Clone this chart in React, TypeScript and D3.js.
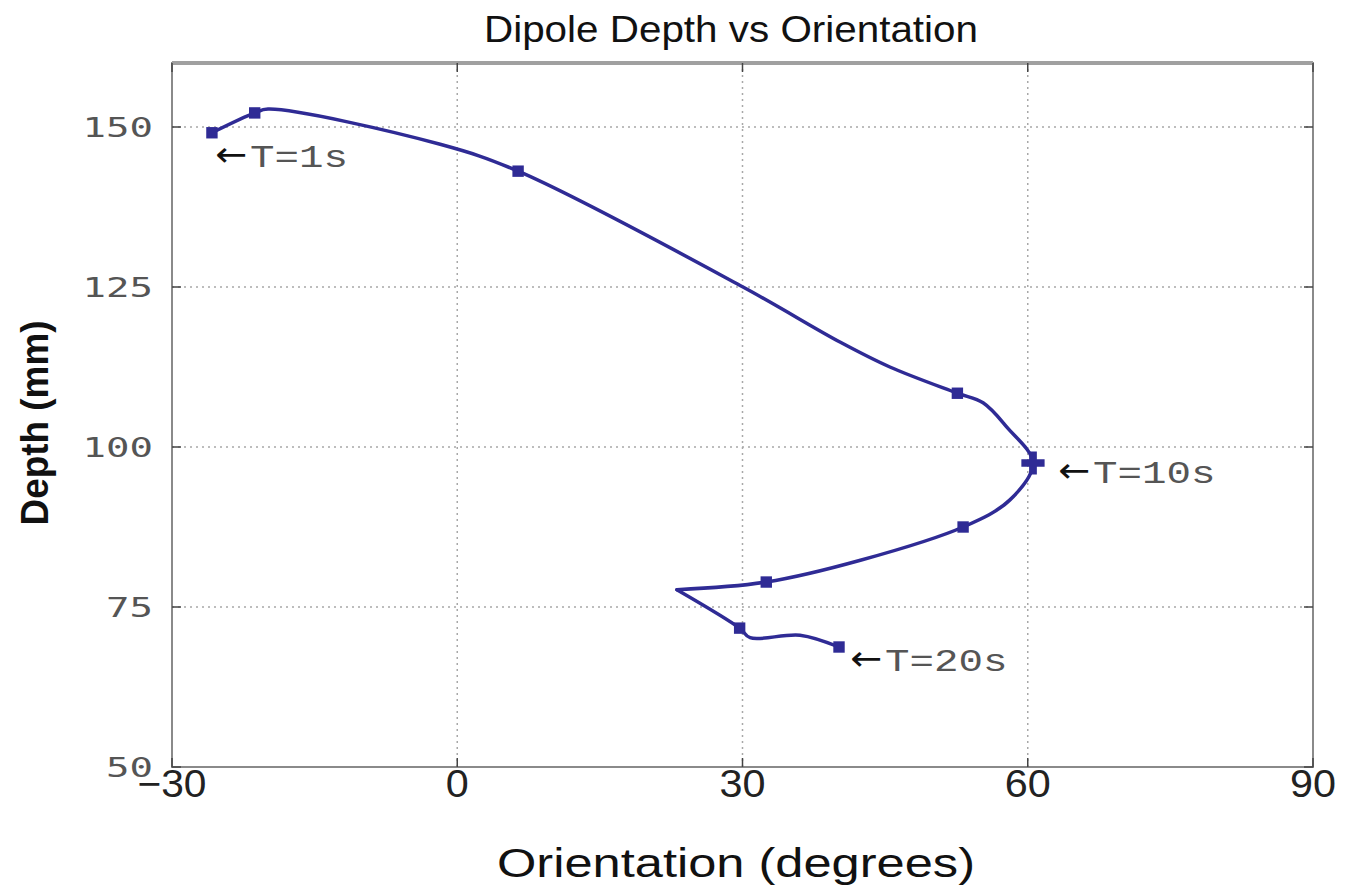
import React from "react";
import * as d3 from "d3";

const layout = {
    width: 1356,
    height: 892,
    left: 172,
    right: 1313,
    top: 63,
    bottom: 767
};

// traced path of the dipole (orientation in degrees, depth in mm)
const traceOrientation = [-25.8, -21.3, -19.9, -1.8, 6.4, 30.05, 40.25, 45.5, 52.6, 55.3, 57.8, 60.55, 58.1, 53.2, 42.4, 32.5, 23.1, 29.7, 30.8, 36.05, 40.15];
const traceDepth = [149.1, 152.2, 152.8, 147.3, 143.1, 125.0, 116.4, 112.5, 108.4, 106.9, 103.1, 97.5, 91.7, 87.5, 82.3, 78.9, 77.7, 71.7, 70.2, 70.6, 68.75];
// the path turns sharply here
const cornerIndex = 16;

// sample markers
const markerOrientation = [-25.8, -21.3, 6.4, 52.6, 60.55, 53.2, 32.5, 29.7, 40.15];
const markerDepth = [149.1, 152.2, 143.1, 108.4, 97.5, 87.5, 78.9, 71.7, 68.75];
const markerShape = ["square", "square", "square", "square", "cross", "square", "square", "square", "square"];

const annotationText = ["T=1s", "T=10s", "T=20s"];
const annotationMarker = [0, 4, 8];

const xTicks = [-30, 0, 30, 60, 90];
const yTicks = [50, 75, 100, 125, 150];

const lineColour = "#2f2b95";

const App = () => {
    const xScale = d3.scaleLinear().domain([-30, 90]).range([layout.left, layout.right]);
    const yScale = d3.scaleLinear().domain([50, 160]).range([layout.bottom, layout.top]);

    const points: [number, number][] = traceOrientation.map((o, i) => [o, traceDepth[i]]);
    const lineGenerator = d3
        .line<[number, number]>()
        .x(d => xScale(d[0]))
        .y(d => yScale(d[1]))
        .curve(d3.curveCatmullRom.alpha(0.5));
    const paths = [
        lineGenerator(points.slice(0, cornerIndex + 1)) || "",
        lineGenerator(points.slice(cornerIndex)) || ""
    ];

    const square = d3.symbol().type(d3.symbolSquare).size(130)() || "";
    const cross = d3.symbol().type(d3.symbolCross).size(300)() || "";

    // annotation offsets relative to the marker they point at
    const offsets = [
        { dx: 3, dy: 34 },
        { dx: 25, dy: 20 },
        { dx: 11, dy: 24 }
    ];

    const narrow = "Liberation Sans Narrow, Liberation Sans, sans-serif";

    return (
        <div style={{ position: "absolute", left: 0, top: 0 }}>
            <svg width={layout.width} height={layout.height} style={{ background: "#fff", display: "block" }}>
                {/* grid */}
                {xTicks.slice(1, -1).map(t => (
                    <line key={"gx" + t} x1={xScale(t)} x2={xScale(t)} y1={layout.top} y2={layout.bottom}
                        stroke="#a8a8a8" strokeWidth={1.5} strokeDasharray="2,4" />
                ))}
                {yTicks.slice(1).map(t => (
                    <line key={"gy" + t} x1={layout.left} x2={layout.right} y1={yScale(t)} y2={yScale(t)}
                        stroke="#a8a8a8" strokeWidth={1.5} strokeDasharray="2,4" />
                ))}

                {/* frame */}
                <rect x={layout.left} y={layout.top} width={layout.right - layout.left} height={layout.bottom - layout.top}
                    fill="none" stroke="#8a8a8a" strokeWidth={2} />
                <line x1={layout.left} x2={layout.right} y1={layout.top} y2={layout.top} stroke="#a0a0a0" strokeWidth={4} />

                {/* ticks */}
                {xTicks.map(t => {
                    const label = t < 0 ? "\u2212" + Math.abs(t) : String(t);
                    return (
                        <g key={"tx" + t}>
                            <line x1={xScale(t)} x2={xScale(t)} y1={layout.bottom} y2={layout.bottom - 9} stroke="#444" strokeWidth={1.5} />
                            <line x1={xScale(t)} x2={xScale(t)} y1={layout.top} y2={layout.top + 9} stroke="#444" strokeWidth={1.5} />
                            <text x={xScale(t)} y={797} textAnchor="middle" fontFamily={narrow}
                                fontSize={38} fill="#222" textLength={label.length * 23} lengthAdjust="spacingAndGlyphs">
                                {label}
                            </text>
                        </g>
                    );
                })}
                {yTicks.map(t => (
                    <g key={"ty" + t}>
                        <line x1={layout.left} x2={layout.left + 9} y1={yScale(t)} y2={yScale(t)} stroke="#444" strokeWidth={1.5} />
                        <line x1={layout.right} x2={layout.right - 9} y1={yScale(t)} y2={yScale(t)} stroke="#444" strokeWidth={1.5} />
                        <text x={153} y={yScale(t) + 10} textAnchor="end" fontFamily="DejaVu Sans Mono, monospace"
                            fontSize={27} fill="#555" textLength={String(t).length * 23.5} lengthAdjust="spacingAndGlyphs">
                            {t}
                        </text>
                    </g>
                ))}

                {/* series */}
                {paths.map((d, i) => (
                    <path key={"p" + i} d={d} fill="none" stroke={lineColour} strokeWidth={3.5} strokeLinejoin="miter" strokeLinecap="round" />
                ))}
                {markerOrientation.map((o, i) => (
                    <path key={"m" + i} d={markerShape[i] === "cross" ? cross : square}
                        transform={`translate(${xScale(o)},${yScale(markerDepth[i])})`} fill={lineColour} />
                ))}

                {/* annotations */}
                {annotationText.map((txt, i) => {
                    const m = annotationMarker[i];
                    const x = xScale(markerOrientation[m]) + offsets[i].dx;
                    const y = yScale(markerDepth[m]) + offsets[i].dy;
                    return (
                        <g key={"a" + i}>
                            <text x={x} y={y - 1} fontSize={34} fill="#111" fontFamily="DejaVu Sans, sans-serif"
                                textLength={32} lengthAdjust="spacingAndGlyphs">
                                {"\u2190"}
                            </text>
                            <text x={x + 35} y={y} fontSize={32} fill="#555" fontFamily="Liberation Mono, monospace"
                                textLength={txt.length * 24.5} lengthAdjust="spacingAndGlyphs">
                                {txt}
                            </text>
                        </g>
                    );
                })}

                {/* titles */}
                <text x={731} y={42} textAnchor="middle" fontFamily={narrow}
                    fontSize={36} fill="#111" textLength={494} lengthAdjust="spacingAndGlyphs">
                    Dipole Depth vs Orientation
                </text>
                <text x={736} y={877} textAnchor="middle" fontFamily={narrow}
                    fontSize={40} fill="#111" textLength={478} lengthAdjust="spacingAndGlyphs">
                    Orientation (degrees)
                </text>
                <text transform="translate(48,423) rotate(-90)" textAnchor="middle"
                    fontFamily={narrow} fontSize={38} fontWeight="bold" fill="#111"
                    textLength={205} lengthAdjust="spacingAndGlyphs">
                    Depth (mm)
                </text>
            </svg>
        </div>
    );
};

export default App;
